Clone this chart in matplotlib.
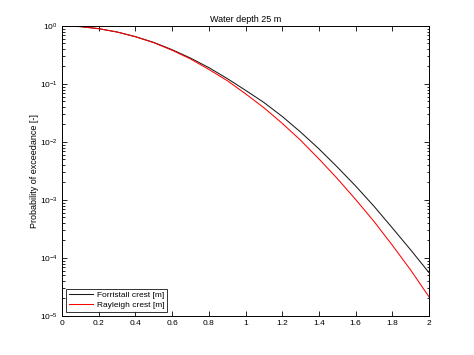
import numpy as np
import matplotlib
matplotlib.use('Agg')
import matplotlib.pyplot as plt
from matplotlib.ticker import LogLocator, NullFormatter

# crest height [m] and exceedance probabilities
crest = [0.0, 0.1, 0.2, 0.3, 0.4, 0.5, 0.6, 0.7, 0.8, 0.9, 1.0,
         1.1, 1.2, 1.3, 1.4, 1.5, 1.6, 1.7, 1.8, 1.9, 2.0]
p_forristall = [1.0, 0.973, 0.895, 0.785, 0.653, 0.519, 0.389, 0.279, 0.191, 0.124, 7.76e-2,
                4.79e-2, 2.75e-2, 1.48e-2, 7.6e-3, 3.7e-3, 1.74e-3, 7.8e-4, 3.3e-4, 1.38e-4, 5.6e-5]
p_rayleigh = [1.0, 0.973, 0.897, 0.785, 0.650, 0.513, 0.380, 0.269, 0.178, 0.114, 6.76e-2,
              3.89e-2, 2.09e-2, 1.07e-2, 5.1e-3, 2.34e-3, 1.02e-3, 4.27e-4, 1.66e-4, 6.2e-5, 2.14e-5]

plt.rcParams['font.family'] = ['Liberation Sans', 'DejaVu Sans']
plt.rcParams['font.size'] = 6

fig = plt.figure(figsize=(4.74, 3.55), dpi=100)
ax = fig.add_axes([0.131, 0.110, 0.774, 0.817])

ax.semilogy(crest, p_forristall, color='#1a1a1a', lw=0.75, label='Forristall crest [m]')
ax.semilogy(crest, p_rayleigh, color='red', lw=0.75, label='Rayleigh crest [m]')

ax.set_xlim(0, 2)
ax.set_ylim(1e-5, 1)
ax.set_xticks(np.arange(0, 2.01, 0.2))
ax.set_xticklabels(['0', '0.2', '0.4', '0.6', '0.8', '1', '1.2', '1.4', '1.6', '1.8', '2'])
ax.yaxis.set_minor_locator(LogLocator(base=10, subs=np.arange(2, 10), numticks=20))
ax.yaxis.set_minor_formatter(NullFormatter())

# matlab style ticks: inward, on every side
ax.tick_params(which='both', direction='in', top=True, right=True, width=0.6)
ax.tick_params(which='major', length=3.5, pad=3)
ax.tick_params(which='minor', length=1.8)
for s in ax.spines.values():
    s.set_linewidth(0.7)

ax.set_title('Water depth 25 m', fontsize=6.5, pad=3)
ax.set_ylabel('Probability of exceedance [-]', fontsize=6.5, labelpad=1)

leg = ax.legend(loc='lower left', fancybox=False, edgecolor='black', fontsize=6,
                handlelength=2.9, handletextpad=0.4, borderaxespad=0.5,
                borderpad=0.35, labelspacing=0.2)
leg.get_frame().set_linewidth(0.7)

fig.savefig('out.png', dpi=100)
